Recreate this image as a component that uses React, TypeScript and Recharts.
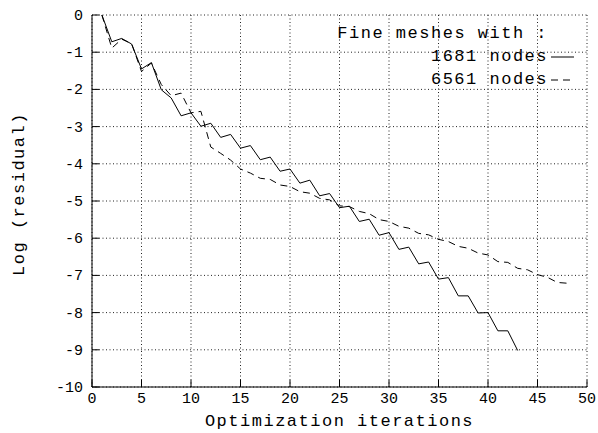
import React from 'react';
import { LineChart, Line, XAxis, YAxis, CartesianGrid, Legend } from 'recharts';

const iterations = [
  1, 2, 3, 4, 5, 6, 7, 8, 9, 10, 11, 12, 13, 14, 15, 16, 17, 18, 19, 20, 21, 22, 23, 24,
  25, 26, 27, 28, 29, 30, 31, 32, 33, 34, 35, 36, 37, 38, 39, 40, 41, 42, 43, 44, 45, 46, 47, 48,
];

// 1681 nodes (solid)
const residual1681 = [
  0, -0.72, -0.63, -0.78, -1.45, -1.28, -2.01, -2.23, -2.71, -2.63, -2.99, -2.91, -3.29, -3.21,
  -3.58, -3.51, -3.89, -3.82, -4.2, -4.14, -4.52, -4.44, -4.86, -4.8, -5.18, -5.14, -5.55, -5.49,
  -5.92, -5.85, -6.3, -6.24, -6.69, -6.64, -7.1, -7.06, -7.55, -7.55, -8.01, -8.0, -8.49, -8.49,
  -9.02,
];

// 6561 nodes (dashed)
const residual6561 = [
  0, -0.89, -0.65, -0.77, -1.52, -1.29, -1.87, -2.17, -2.1, -2.63, -2.59, -3.55, -3.72, -3.9,
  -4.14, -4.25, -4.39, -4.42, -4.57, -4.61, -4.75, -4.79, -4.93, -4.97, -5.13, -5.15, -5.28, -5.34,
  -5.5, -5.55, -5.68, -5.73, -5.87, -5.91, -6.03, -6.09, -6.22, -6.27, -6.4, -6.45, -6.63, -6.65,
  -6.81, -6.85, -6.98, -7.05, -7.19, -7.21,
];

const xTicks = [0, 5, 10, 15, 20, 25, 30, 35, 40, 45, 50];
const yTicks = [0, -1, -2, -3, -4, -5, -6, -7, -8, -9, -10];

const data = iterations.map((it, i) => ({
  iter: it,
  n1681: residual1681[i],
  n6561: residual6561[i],
}));

const FONT = '"Liberation Mono", "DejaVu Sans Mono", monospace';
const TICK_LEN = 7;

const XTick = (props: any) => {
  const { x, y, payload } = props;
  return (
    <g>
      <line x1={x} x2={x} y1={y} y2={y - TICK_LEN} stroke="#000" />
      <text x={x} y={y + 16} textAnchor="middle" fontFamily={FONT} fontSize={15} fill="#000">
        {payload.value}
      </text>
    </g>
  );
};

const YTick = (props: any) => {
  const { x, y, payload } = props;
  return (
    <g>
      <line x1={x} x2={x + TICK_LEN} y1={y} y2={y} stroke="#000" />
      <text x={x - 9} y={y + 5} textAnchor="end" fontFamily={FONT} fontSize={15} fill="#000">
        {payload.value}
      </text>
    </g>
  );
};

const YTitle = (props: any) => {
  const vb = props.viewBox;
  const cx = vb.x + 19;
  const cy = vb.y + vb.height / 2 - 7;
  return (
    <text x={cx} y={cy} transform={`rotate(-90 ${cx} ${cy})`} textAnchor="middle" dominantBaseline="central"
      fontFamily={FONT} fontSize={17} letterSpacing={1.5} fill="#000">
      Log (residual)
    </text>
  );
};

const XTitle = (props: any) => {
  const vb = props.viewBox;
  return (
    <text x={vb.x + vb.width / 2} y={vb.y + 39} textAnchor="middle"
      fontFamily={FONT} fontSize={17} letterSpacing={1.5} fill="#000">
      Optimization iterations
    </text>
  );
};

const LegendBox = (props: any) => {
  const { payload } = props;
  return (
    <div style={{ fontFamily: FONT, fontSize: 17, letterSpacing: 1.5, lineHeight: '23px', color: '#000' }}>
      <div style={{ textAlign: 'right', paddingRight: 34, whiteSpace: 'pre' }}>Fine meshes with :</div>
      {(payload || []).map((entry: any) => (
        <div key={entry.value} style={{ display: 'flex', justifyContent: 'flex-end', alignItems: 'center', whiteSpace: 'pre' }}>
          <span>{entry.value}</span>
          <svg width={34} height={12} style={{ display: 'block' }}>
            <line x1={3} x2={26} y1={6} y2={6} stroke="#000"
              strokeDasharray={entry.payload?.strokeDasharray} />
          </svg>
        </div>
      ))}
    </div>
  );
};

export default function App() {
  return (
    <div style={{ position: 'absolute', left: 0, top: 0, background: '#fff' }}>
      <LineChart width={598} height={433} data={data} margin={{ top: 15, right: 11, bottom: 0, left: 0 }}>
        <CartesianGrid stroke="#222" strokeDasharray="1 2.5" />
        <XAxis dataKey="iter" type="number" domain={[0, 50]} ticks={xTicks} interval={0} height={46}
          tickLine={false} tickSize={0} tickMargin={0} tick={XTick}
          axisLine={{ stroke: '#000' }} label={{ content: XTitle }} />
        <XAxis xAxisId="top" orientation="top" type="number" domain={[0, 50]} ticks={xTicks} interval={0}
          height={0} mirror tickSize={TICK_LEN} tickFormatter={() => ''}
          axisLine={{ stroke: '#000' }} tickLine={{ stroke: '#000' }} />
        <YAxis type="number" domain={[-10, 0]} ticks={yTicks} interval={0} width={92}
          tickLine={false} tickSize={0} tickMargin={0} tick={YTick}
          axisLine={{ stroke: '#000' }} label={{ content: YTitle }} />
        <YAxis yAxisId="right" orientation="right" type="number" domain={[-10, 0]} ticks={yTicks} interval={0}
          width={0} mirror tickSize={TICK_LEN} tickFormatter={() => ''}
          axisLine={{ stroke: '#000' }} tickLine={{ stroke: '#000' }} />
        <Legend layout="vertical" align="center" verticalAlign="middle" content={LegendBox}
          wrapperStyle={{ top: 22, left: 320, width: 262, bottom: 'auto', right: 'auto' }} />
        <Line type="linear" dataKey="n1681" name="1681 nodes" stroke="#000" strokeWidth={1}
          dot={false} activeDot={false} isAnimationActive={false} />
        <Line type="linear" dataKey="n6561" name="6561 nodes" stroke="#000" strokeWidth={1}
          strokeDasharray="7 5" dot={false} activeDot={false} isAnimationActive={false} />
      </LineChart>
    </div>
  );
}
